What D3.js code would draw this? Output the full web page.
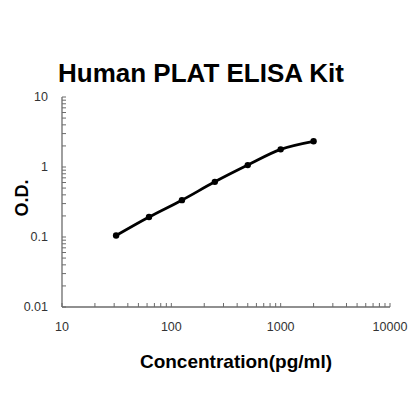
<!DOCTYPE html>
<html>
<head>
<meta charset="utf-8">
<script src="https://cdn.jsdelivr.net/npm/d3@7"></script>
<style>
  body { margin: 0; background: #fff; }
  text { font-family: 'Liberation Sans', Arial, sans-serif; }
</style>
</head>
<body>
<div id="chart"></div>
<script>
// standard curve data
var concentrations = [31.25, 62.5, 125, 250, 500, 1000, 2000]
var odValues = [0.105, 0.193, 0.336, 0.614, 1.065, 1.787, 2.33]
var xTicks = [10, 100, 1000, 10000]
var yTicks = [0.01, 0.1, 1, 10]

var width = 420
var height = 420

var svg = d3
  .select('#chart')
  .append('svg')
  .attr('width', width)
  .attr('height', height)

var x = d3.scaleLog().domain([10, 10000]).range([62, 390])
var y = d3.scaleLog().domain([0.01, 10]).range([307, 97])

// minor ticks for each decade
function minorTicks(lo, hi) {
  var out = []
  for (var p = lo; p < hi; p *= 10) {
    for (var k = 2; k <= 9; k++) out.push(p * k)
  }
  return out
}

var axisColor = '#6b6b6b'

// x axis
var xAxis = svg.append('g').attr('transform', 'translate(0,' + y(0.01) + ')')
xAxis
  .append('line')
  .attr('x1', x(10))
  .attr('x2', x(10000))
  .attr('stroke', axisColor)
  .attr('stroke-width', 1.3)
xAxis
  .selectAll('.tick')
  .data(minorTicks(10, 10000).concat(xTicks))
  .enter()
  .append('line')
  .attr('x1', (d) => x(d))
  .attr('x2', (d) => x(d))
  .attr('y1', 0)
  .attr('y2', -4)
  .attr('stroke', axisColor)
xAxis
  .selectAll('.lbl')
  .data(xTicks)
  .enter()
  .append('text')
  .attr('x', (d) => x(d))
  .attr('y', 24)
  .attr('text-anchor', 'middle')
  .attr('font-size', 12.5)
  .attr('fill', '#333')
  .text((d) => d)

// y axis
var yAxis = svg.append('g').attr('transform', 'translate(' + x(10) + ',0)')
yAxis
  .append('line')
  .attr('y1', y(0.01))
  .attr('y2', y(10))
  .attr('stroke', axisColor)
  .attr('stroke-width', 1.3)
yAxis
  .selectAll('.tick')
  .data(minorTicks(0.01, 10).concat(yTicks))
  .enter()
  .append('line')
  .attr('y1', (d) => y(d))
  .attr('y2', (d) => y(d))
  .attr('x1', 0)
  .attr('x2', 4)
  .attr('stroke', axisColor)
yAxis
  .selectAll('.lbl')
  .data(yTicks)
  .enter()
  .append('text')
  .attr('x', -14)
  .attr('y', (d) => y(d))
  .attr('dy', '0.35em')
  .attr('text-anchor', 'end')
  .attr('font-size', 12.5)
  .attr('fill', '#333')
  .text((d) => d)

// curve
var points = concentrations.map((c, i) => [c, odValues[i]])
var line = d3
  .line()
  .x((d) => x(d[0]))
  .y((d) => y(d[1]))
  .curve(d3.curveCatmullRom.alpha(0.5))

svg
  .append('path')
  .datum(points)
  .attr('d', line)
  .attr('fill', 'none')
  .attr('stroke', '#000')
  .attr('stroke-width', 2.8)

svg
  .selectAll('circle')
  .data(points)
  .enter()
  .append('circle')
  .attr('cx', (d) => x(d[0]))
  .attr('cy', (d) => y(d[1]))
  .attr('r', 3.2)
  .attr('fill', '#000')

// titles
svg
  .append('text')
  .attr('x', 201)
  .attr('y', 82)
  .attr('text-anchor', 'middle')
  .attr('font-size', 26)
  .attr('font-weight', 'bold')
  .text('Human PLAT ELISA Kit')

svg
  .append('text')
  .attr('x', 236)
  .attr('y', 368)
  .attr('text-anchor', 'middle')
  .attr('font-size', 19)
  .attr('font-weight', 'bold')
  .text('Concentration(pg/ml)')

svg
  .append('text')
  .attr('transform', 'translate(28,198) rotate(-90)')
  .attr('text-anchor', 'middle')
  .attr('font-size', 18)
  .attr('font-weight', 'bold')
  .text('O.D.')
</script>
</body>
</html>
